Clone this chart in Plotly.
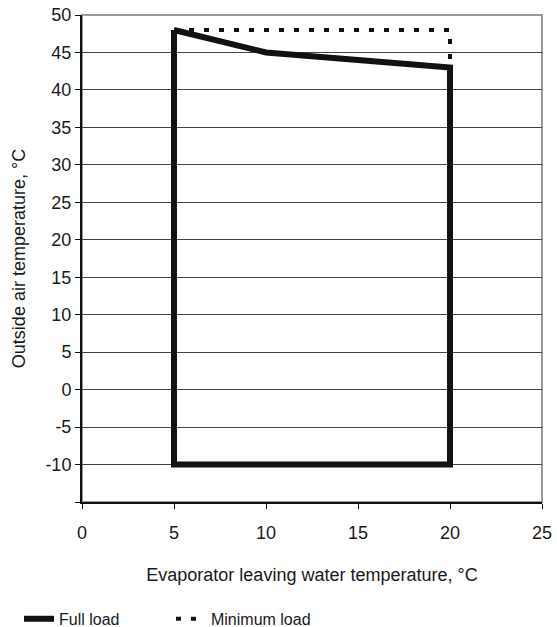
import plotly.graph_objects as go

# Full load envelope (x: evaporator leaving water temp, y: outside air temp)
full_x = [5, 10, 20, 20, 5, 5]
full_y = [48, 45, 43, -10, -10, 48]

# Minimum load boundary
min_x = [5, 20, 20]
min_y = [48, 48, 43]

x_ticks = [0, 5, 10, 15, 20, 25]
y_ticks = [-15, -10, -5, 0, 5, 10, 15, 20, 25, 30, 35, 40, 45, 50]
y_tick_text = ["", "-10", "-5", "0", "5", "10", "15", "20", "25", "30", "35", "40", "45", "50"]

FONT = "Liberation Sans, Arial, sans-serif"

fig = go.Figure()
fig.add_trace(go.Scatter(x=full_x, y=full_y, mode="lines", name="Full load",
                         line=dict(color="#111111", width=6)))
fig.add_trace(go.Scatter(x=min_x, y=min_y, mode="lines", name="Minimum load",
                         line=dict(color="#111111", width=4, dash="5px,10px")))

fig.update_layout(
    width=557, height=627,
    margin=dict(l=82, r=15, t=15, b=125, autoexpand=False),
    paper_bgcolor="white", plot_bgcolor="white",
    font=dict(family=FONT, size=18, color="#1a1a1a"),
    showlegend=True,
    legend=dict(orientation="h", x=-0.137, xanchor="left", y=-0.240, yanchor="middle",
                font=dict(size=16, family=FONT, color="#1a1a1a"),
                entrywidth=107, entrywidthmode="pixels", tracegroupgap=0),
    shapes=[dict(type="rect", xref="paper", yref="paper", x0=0, y0=0, x1=1, y1=1,
                 line=dict(color="#999999", width=2), layer="below")],
)
fig.update_xaxes(range=[0, 25], tickvals=x_ticks, ticks="outside", ticklen=5,
                 tickcolor="#111111", showline=True, linecolor="#111111", linewidth=2,
                 showgrid=False, zeroline=False, automargin=False,
                 ticklabelstandoff=8,
                 title=dict(text="Evaporator leaving water temperature, °C", standoff=27,
                            font=dict(size=18)),
                 tickfont=dict(size=18))
fig.update_yaxes(range=[-15, 50], tickvals=y_ticks, ticktext=y_tick_text,
                 ticks="outside", ticklen=5, tickcolor="#111111",
                 showline=True, linecolor="#111111", linewidth=2,
                 showgrid=True, gridcolor="#444444", gridwidth=1, zeroline=False,
                 automargin=False,
                 title=dict(text="Outside air temperature, °C", standoff=15,
                            font=dict(size=18)),
                 tickfont=dict(size=18))

fig.write_html("out.html", config={"displayModeBar": False},
               post_script="document.body.style.margin='0';")
